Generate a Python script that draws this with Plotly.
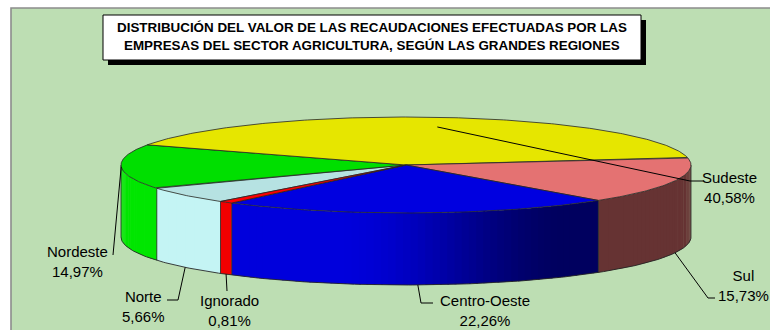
import numpy as np
import plotly.graph_objects as go

# Regional shares (% of collected value), listed in the order the slices run clockwise
regions = ["Norte", "Nordeste", "Sudeste", "Sul", "Centro-Oeste", "Ignorado"]
shares = [5.66, 14.97, 40.58, 15.73, 22.26, 0.81]

top_colors = ["#B6E2E2", "#00DF00", "#E6E600", "#E47272", "#0000E0", "#FF0000"]
side_colors = ["#C4F4F4", "#00E600", "#E6E600", "#ED7777", "#0000DC", "#F20000"]

title_lines = [
    "DISTRIBUCIÓN DEL VALOR DE LAS RECAUDACIONES EFECTUADAS POR LAS",
    "EMPRESAS DEL SECTOR AGRICULTURA, SEGÚN LAS GRANDES REGIONES",
]

# ---- pie geometry (pixel space, y grows downward) ----
W, H = 770, 330
CX, CY = 406, 165       # centre of the top face
RX, RY = 285, 48        # semi-axes of the top ellipse
DEPTH = 72              # thickness of the disc
START = 229.4           # angle (deg, counter-clockwise from 3 o'clock) where the first slice begins
EDGE = "#262626"
FONT = "Liberation Sans, Arial, sans-serif"

# label placement: text centre, leader elbow points, and where the leader meets the pie
label_layout = {
    "Sudeste":      dict(xy=(729, 187), path=[(690, 181), (704, 181)], anchor=("face", 0.8)),
    "Sul":          dict(xy=(743, 285), path=[(708, 298), (715, 298)], anchor=("bottom", 1.0)),
    "Centro-Oeste": dict(xy=(485, 310), path=[(421, 303), (433, 303)], anchor=("bottom", 1.0)),
    "Ignorado":     dict(xy=(229, 310), path=[(227, 291)], anchor=("bottom", 1.0)),
    "Norte":        dict(xy=(143, 306), path=[(178, 300), (167, 300)], anchor=("bottom", 1.0)),
    "Nordeste":     dict(xy=(77, 261), path=[(113, 255)], anchor=("top", 1.0)),
}


def rim(theta, drop=0.0, r=1.0):
    t = np.radians(theta)
    return CX + r * RX * np.cos(t), CY - r * RY * np.sin(t) + drop


def hex_rgb(c):
    c = c.lstrip("#")
    return [int(c[i:i + 2], 16) for i in (0, 2, 4)]


def shaded(c, f):
    r, g, b = [min(255, int(round(v * f))) for v in hex_rgb(c)]
    return f"rgb({r},{g},{b})"


def shade(theta):
    # light comes from the front-left: the wall darkens toward the right
    t = theta % 360
    if t <= 255:
        return 1.0
    if t >= 305:
        return 0.43
    u = (t - 255) / 50
    return 1.0 - 0.57 * (0.5 - 0.5 * np.cos(np.pi * u))


total = sum(shares)
cum = np.cumsum([0] + shares)
his = [START - 360 * cum[i] / total for i in range(len(shares))]
los = [START - 360 * cum[i + 1] / total for i in range(len(shares))]

fig = go.Figure()

# ---- side walls (only the front half is visible) ----
front_bounds = []
for i, (lo, hi) in enumerate(zip(los, his)):
    for k in (-1, 0, 1):
        a, b = max(lo, 180 + 360 * k), min(hi, 360 + 360 * k)
        if b <= a:
            continue
        front_bounds += [a, b]
        n = max(1, int(np.ceil((b - a) / 1.5)))
        edges = np.linspace(a, b, n + 1)
        for j in range(n):
            s0, s1 = edges[j], min(b, edges[j + 1] + 0.4)
            ts = np.linspace(s0, s1, 4)
            tx, ty = rim(ts)
            bx, by = rim(ts[::-1], DEPTH)
            col = shaded(side_colors[i], shade(0.5 * (edges[j] + edges[j + 1])))
            fig.add_trace(go.Scatter(
                x=np.r_[tx, bx], y=np.r_[ty, by], mode="lines", fill="toself",
                fillcolor=col, line=dict(width=0, color=col), hoverinfo="skip",
                showlegend=False))

# outline of the wall: bottom rim, outer verticals and slice seams
ts = np.linspace(180, 360, 200)
bx, by = rim(ts, DEPTH)
fig.add_trace(go.Scatter(x=bx, y=by, mode="lines", line=dict(color=EDGE, width=0.9),
                         hoverinfo="skip", showlegend=False))
for t in sorted(set(round(v % 360, 4) if v % 360 != 0 else 360 for v in front_bounds)):
    x0, y0 = rim(t)
    x1, y1 = rim(t, DEPTH)
    fig.add_trace(go.Scatter(x=[x0, x1], y=[y0, y1], mode="lines",
                             line=dict(color=EDGE, width=0.8), hoverinfo="skip",
                             showlegend=False))

# ---- top faces ----
for i, (lo, hi) in enumerate(zip(los, his)):
    ts = np.linspace(hi, lo, max(3, int(abs(hi - lo) * 1.5)))
    ax, ay = rim(ts)
    fig.add_trace(go.Scatter(
        x=np.r_[CX, ax, CX], y=np.r_[CY, ay, CY], mode="lines", fill="toself",
        fillcolor=top_colors[i], line=dict(color=EDGE, width=0.8),
        hoverinfo="skip", showlegend=False))

# ---- leader lines and labels ----
annotations = []
for i, name in enumerate(regions):
    spec = label_layout[name]
    mid = 0.5 * (los[i] + his[i])
    kind, r = spec["anchor"]
    if kind == "bottom":
        p0 = rim(mid, DEPTH, r)
    else:
        p0 = rim(mid, 0, r)
    pts = [p0] + spec["path"]
    fig.add_trace(go.Scatter(x=[p[0] for p in pts], y=[p[1] for p in pts], mode="lines",
                             line=dict(color="black", width=1), hoverinfo="skip",
                             showlegend=False))
    pct = f"{shares[i]:.2f}".replace(".", ",") + "%"
    annotations.append(dict(x=spec["xy"][0], y=spec["xy"][1], xref="x", yref="y",
                            text=f"{name}<br>{pct}", showarrow=False, align="center",
                            xanchor="center", yanchor="middle",
                            font=dict(family=FONT, size=15, color="black")))

for k, line in enumerate(title_lines):
    annotations.append(dict(x=372, y=27 + 18 * k, xref="x", yref="y", text=f"<b>{line}</b>",
                            showarrow=False, xanchor="center", yanchor="middle",
                            font=dict(family=FONT, size=13.4, color="black")))

shapes = [
    # chart area
    dict(type="rect", xref="x", yref="y", x0=11, y0=8, x1=W + 4, y1=H + 4,
         fillcolor="#BDDEB3", line=dict(color="#8C8C8C", width=1.6), layer="below"),
    # title box with drop shadow
    dict(type="rect", xref="x", yref="y", x0=108, y0=20, x1=646, y1=65,
         fillcolor="black", line=dict(width=0), layer="above"),
    dict(type="rect", xref="x", yref="y", x0=103, y0=15, x1=641, y1=60,
         fillcolor="white", line=dict(color="black", width=1), layer="above"),
]

fig.update_layout(
    width=W, height=H, margin=dict(l=0, r=0, t=0, b=0),
    paper_bgcolor="white", plot_bgcolor="rgba(0,0,0,0)",
    xaxis=dict(range=[0, W], visible=False, fixedrange=True),
    yaxis=dict(range=[H, 0], visible=False, fixedrange=True),
    shapes=shapes, annotations=annotations, showlegend=False,
)

fig.write_html("out.html")
